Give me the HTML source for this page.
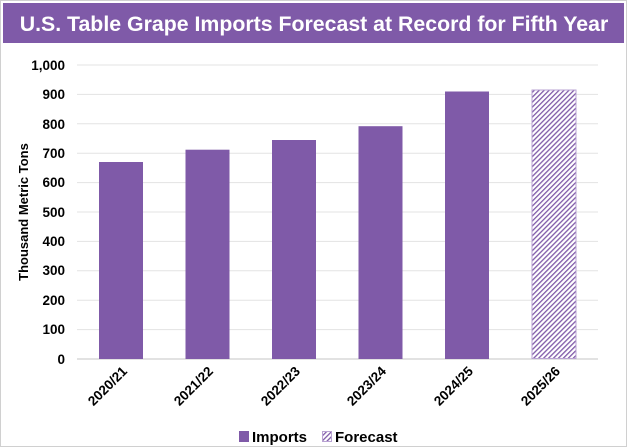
<!DOCTYPE html>
<html><head><meta charset="utf-8"><style>
body{margin:0;background:#fff;}
svg{display:block;font-family:"Liberation Sans",Arial,sans-serif;font-weight:bold;}
</style></head><body>
<svg width="627" height="447" viewBox="0 0 627 447">
<defs><pattern id="h" patternUnits="userSpaceOnUse" width="3.5" height="3.5" patternTransform="rotate(45)"><rect width="3.5" height="3.5" fill="#fff"/><rect width="1.3" height="3.5" fill="#7f5aa8"/></pattern></defs>
<rect x="0.5" y="0.5" width="626" height="446" fill="#fff" stroke="#d0d0d0"/>
<rect x="3" y="3" width="621" height="40" fill="#7f5aa8"/>
<text x="314" y="31" text-anchor="middle" font-size="21.3" fill="#fff">U.S. Table Grape Imports Forecast at Record for Fifth Year</text>
<g stroke="#e3e3e3" stroke-width="1">
<line x1="77" x2="598" y1="65" y2="65"/><line x1="77" x2="598" y1="94.4" y2="94.4"/><line x1="77" x2="598" y1="123.8" y2="123.8"/><line x1="77" x2="598" y1="153.2" y2="153.2"/><line x1="77" x2="598" y1="182.6" y2="182.6"/><line x1="77" x2="598" y1="212" y2="212"/><line x1="77" x2="598" y1="241.4" y2="241.4"/><line x1="77" x2="598" y1="270.8" y2="270.8"/><line x1="77" x2="598" y1="300.2" y2="300.2"/><line x1="77" x2="598" y1="329.6" y2="329.6"/>
</g>
<line x1="77" x2="598" y1="359" y2="359" stroke="#d9d9d9" stroke-width="1.5"/>
<g font-size="13.5" fill="#000" text-anchor="end">
<text x="65" y="70">1,000</text><text x="65" y="99">900</text><text x="65" y="129">800</text><text x="65" y="158">700</text><text x="65" y="187">600</text><text x="65" y="217">500</text><text x="65" y="246">400</text><text x="65" y="275">300</text><text x="65" y="305">200</text><text x="65" y="334">100</text><text x="65" y="364">0</text>
</g>
<text transform="translate(28,212) rotate(-90)" text-anchor="middle" font-size="13">Thousand Metric Tons</text>
<g fill="#7f5aa8">
<rect x="99" y="162" width="44" height="197"/>
<rect x="185.5" y="149.7" width="44" height="209.3"/>
<rect x="272" y="140" width="44" height="219"/>
<rect x="358.5" y="126.2" width="44" height="232.8"/>
<rect x="445" y="91.5" width="44" height="267.5"/>
</g>
<rect x="532" y="90" width="44" height="268.5" fill="url(#h)" stroke="#b9a3d3" stroke-width="1"/>
<g font-size="13.5" text-anchor="end">
<text transform="translate(128,372) rotate(-45)">2020/21</text>
<text transform="translate(214,372) rotate(-45)">2021/22</text>
<text transform="translate(301,372) rotate(-45)">2022/23</text>
<text transform="translate(387,372) rotate(-45)">2023/24</text>
<text transform="translate(474,372) rotate(-45)">2024/25</text>
<text transform="translate(561,372) rotate(-45)">2025/26</text>
</g>
<rect x="239" y="431" width="10" height="11" fill="#7f5aa8"/>
<text x="252" y="442" font-size="15">Imports</text>
<rect x="322.5" y="431.5" width="9" height="10" fill="url(#h)" stroke="#b9a3d3"/>
<text x="335" y="442" font-size="15">Forecast</text>
</svg>
</body></html>
